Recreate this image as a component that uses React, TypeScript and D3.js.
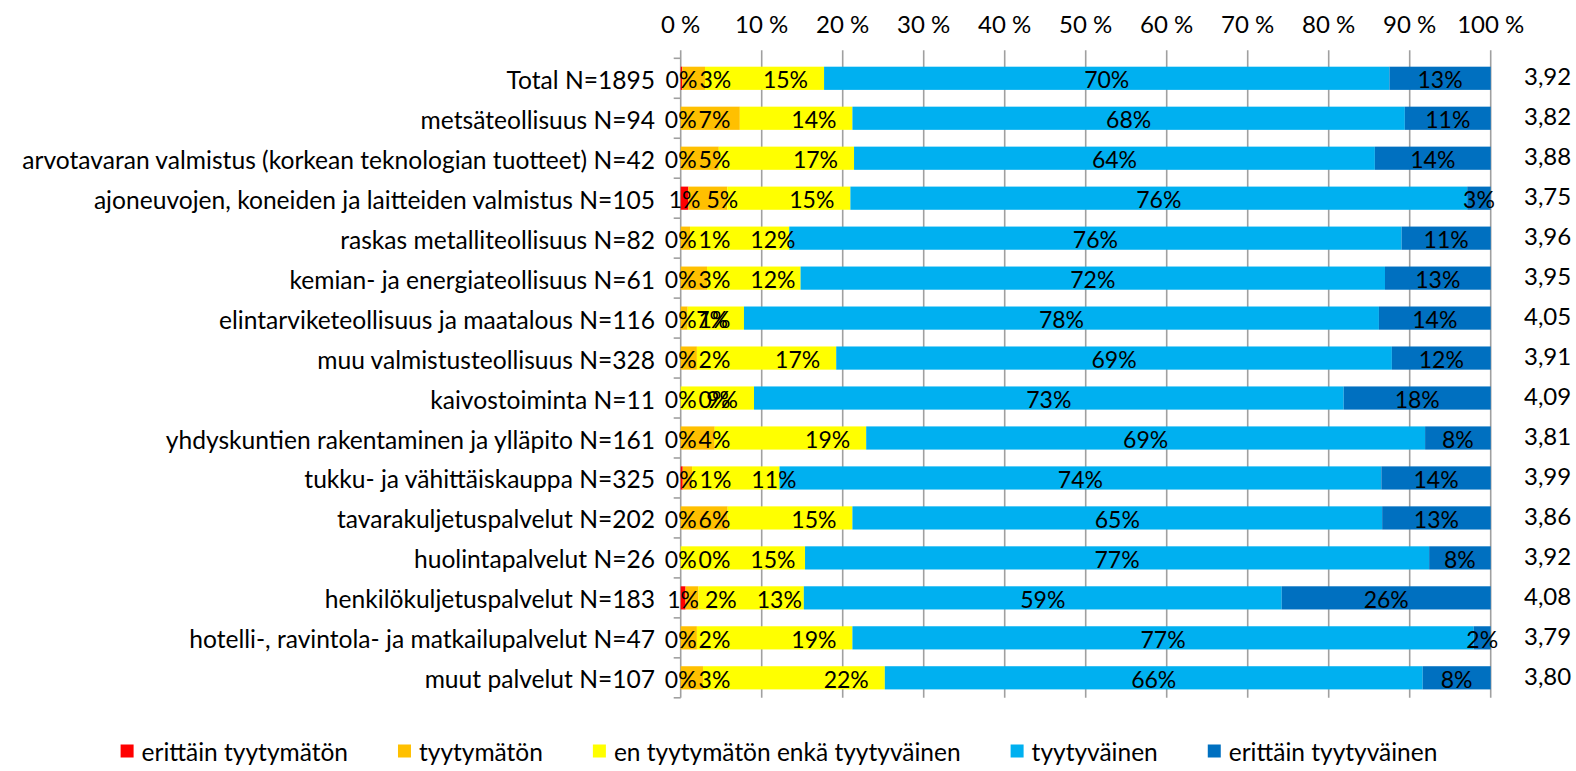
import React, { useMemo } from "react";
import * as d3 from "d3";

const categories = [
  "Total N=1895",
  "metsäteollisuus N=94",
  "arvotavaran valmistus (korkean teknologian tuotteet) N=42",
  "ajoneuvojen, koneiden ja laitteiden valmistus N=105",
  "raskas metalliteollisuus N=82",
  "kemian- ja energiateollisuus N=61",
  "elintarviketeollisuus ja maatalous N=116",
  "muu valmistusteollisuus N=328",
  "kaivostoiminta N=11",
  "yhdyskuntien rakentaminen ja ylläpito N=161",
  "tukku- ja vähittäiskauppa N=325",
  "tavarakuljetuspalvelut N=202",
  "huolintapalvelut N=26",
  "henkilökuljetuspalvelut N=183",
  "hotelli-, ravintola- ja matkailupalvelut N=47",
  "muut palvelut N=107",
];

const seriesNames = [
  "erittäin tyytymätön",
  "tyytymätön",
  "en tyytymätön enkä tyytyväinen",
  "tyytyväinen",
  "erittäin tyytyväinen",
];
const seriesColors = ["#FF0000", "#FFC000", "#FFFF00", "#00B0F0", "#0070C0"];

const veryDissatisfied = [0.2, 0, 0, 0.95, 0, 0, 0, 0, 0, 0, 0.25, 0, 0, 0.6, 0, 0];
const dissatisfied = [2.8, 7.3, 4.7, 4.8, 1.15, 3.25, 0.86, 2.0, 0, 4.2, 1.15, 5.8, 0, 1.6, 2.0, 2.75];
const neutral = [14.7, 13.9, 16.7, 15.2, 12.25, 11.55, 6.95, 17.2, 9.05, 18.7, 10.8, 15.4, 15.35, 13.0, 19.2, 22.45];
const satisfied = [69.8, 68.2, 64.3, 76.15, 75.6, 72.15, 78.39, 68.6, 72.8, 69.0, 74.3, 65.4, 77.05, 59.0, 76.7, 66.4];
const verySatisfied = [12.5, 10.6, 14.3, 2.9, 11.0, 13.05, 13.8, 12.2, 18.15, 8.1, 13.5, 13.4, 7.6, 25.8, 2.1, 8.4];

const averages = ["3,92", "3,82", "3,88", "3,75", "3,96", "3,95", "4,05", "3,91", "4,09", "3,81", "3,99", "3,86", "3,92", "4,08", "3,79", "3,80"];

const xTicks = [0, 10, 20, 30, 40, 50, 60, 70, 80, 90, 100];

const FONT = "Lato, 'Open Sans', sans-serif";
const W = 1576;
const H = 771;
const LEFT = 680.7;
const RIGHT = 1490.7;
const TOP = 58.3;
const BOTTOM = 697.8;

let measureCtx: CanvasRenderingContext2D | null = null;
function textWidth(t: string, size: number) {
  if (!measureCtx) measureCtx = document.createElement("canvas").getContext("2d");
  if (!measureCtx) return t.length * size * 0.55;
  measureCtx.font = `${size}px Lato`;
  return measureCtx.measureText(t).width;
}

export default function App() {
  const series = [veryDissatisfied, dissatisfied, neutral, satisfied, verySatisfied];
  const x = d3.scaleLinear().domain([0, 100]).range([LEFT, RIGHT]);
  const y = d3
    .scaleBand<string>()
    .domain(categories)
    .range([TOP, BOTTOM])
    .paddingInner(0.42)
    .paddingOuter(0.21);
  const step = y.step();

  const table = categories.map((c, i) => {
    const row: any = { cat: c };
    seriesNames.forEach((s, k) => (row[s] = series[k][i]));
    return row;
  });
  const stacked = d3.stack<any>().keys(seriesNames).offset(d3.stackOffsetExpand)(table);

  const labelSize = 23;
  const catSize = 24.6;
  const axisSize = 24;
  const legendSize = 24.5;
  const avgSize = 24;

  const labels: { x: number; y: number; t: string; key: string }[] = [];
  categories.forEach((c, i) => {
    const yc = (y(c) as number) + y.bandwidth() / 2;
    let prevRight = -Infinity;
    stacked.forEach((layer, k) => {
      const [a, b] = layer[i];
      const x0 = x(a * 100);
      const x1 = x(b * 100);
      const val = series[k][i];
      const t = `${Math.round(val)}%`;
      const w = textWidth(t, labelSize);
      let cx = (x0 + x1) / 2;
      if (k === 1) {
        const gap = series[0][i] >= 0.5 ? 6 : 2;
        cx = Math.max(cx, prevRight + gap + w / 2);
      } else if (k === 2) {
        let left = x1 - 16 - w;
        const pushed = prevRight + 20;
        if (left < pushed && x1 - x0 >= 80) left = pushed;
        cx = left + w / 2;
      }
      prevRight = cx + w / 2;
      labels.push({ x: cx, y: yc, t, key: `${i}-${k}` });
    });
  });

  const legend = useMemo(() => {
    const sq = 13;
    const gapText = 8;
    const gapItem = 50;
    const widths = seriesNames.map((s) => sq + gapText + textWidth(s, legendSize));
    const total = d3.sum(widths) + gapItem * (widths.length - 1);
    let cur = 779 - total / 2;
    return seriesNames.map((s, k) => {
      const item = { x: cur, name: s, color: seriesColors[k] };
      cur += widths[k] + gapItem;
      return item;
    });
  }, []);

  return (
    <svg
      width={W}
      height={H}
      style={{ position: "absolute", left: 0, top: 0, display: "block", background: "#fff" }}
      fontFamily={FONT}
    >
      <rect x={0} y={0} width={W} height={H} fill="#fff" />
      {xTicks.map((t) => (
        <line
          key={`g${t}`}
          x1={x(t)}
          x2={x(t)}
          y1={TOP - 8}
          y2={BOTTOM}
          stroke="#A0A0A0"
          strokeWidth={1.6}
        />
      ))}
      {d3.range(categories.length + 1).map((k) => (
        <line
          key={`ct${k}`}
          x1={LEFT - 7}
          x2={LEFT}
          y1={TOP + k * step}
          y2={TOP + k * step}
          stroke="#A0A0A0"
          strokeWidth={1.6}
        />
      ))}
      {xTicks.map((t) => (
        <text
          key={`xt${t}`}
          x={x(t)}
          y={23.5}
          textAnchor="middle"
          dominantBaseline="central"
          fontSize={axisSize}
          fill="#000"
        >
          {`${t} %`}
        </text>
      ))}
      {stacked.map((layer, k) => (
        <g key={`s${k}`} fill={seriesColors[k]}>
          {layer.map((d, i) => (
            <rect
              key={i}
              x={x(d[0] * 100)}
              width={Math.max(0, x(d[1] * 100) - x(d[0] * 100))}
              y={y(categories[i])}
              height={y.bandwidth()}
            />
          ))}
        </g>
      ))}
      {labels.map((l) => (
        <text
          key={l.key}
          x={l.x}
          y={l.y + 1}
          textAnchor="middle"
          dominantBaseline="central"
          fontSize={labelSize}
          fill="#000"
        >
          {l.t}
        </text>
      ))}
      {categories.map((c) => (
        <text
          key={c}
          x={655}
          y={(y(c) as number) + y.bandwidth() / 2 + 1}
          textAnchor="end"
          dominantBaseline="central"
          fontSize={catSize}
          fill="#000"
        >
          {c}
        </text>
      ))}
      {categories.map((c, i) => (
        <text
          key={`av${i}`}
          x={1524}
          y={(y(c) as number) + y.bandwidth() / 2 - 2.5}
          dominantBaseline="central"
          fontSize={avgSize}
          fill="#000"
        >
          {averages[i]}
        </text>
      ))}
      {legend.map((l) => (
        <g key={l.name}>
          <rect x={l.x} y={751 - 6.5} width={13} height={13} fill={l.color} />
          <text x={l.x + 21} y={751} dominantBaseline="central" fontSize={legendSize} fill="#000">
            {l.name}
          </text>
        </g>
      ))}
    </svg>
  );
}
